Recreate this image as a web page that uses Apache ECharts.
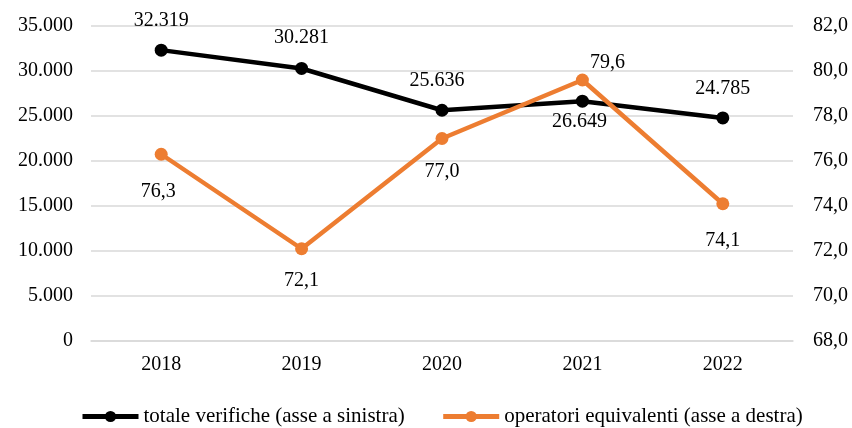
<!DOCTYPE html>
<html>
<head>
<meta charset="utf-8">
<script src="https://cdn.jsdelivr.net/npm/echarts@6/dist/echarts.min.js"></script>
<style>html,body{margin:0;padding:0;background:#fff}#c{width:852px;height:428px}</style>
</head>
<body>
<div id="c"></div>
<script>
const categories = ['2018', '2019', '2020', '2021', '2022'];
const verifiche = [32319, 30281, 25636, 26649, 24785];
const operatori = [76.3, 72.1, 77.0, 79.6, 74.1];
const seriesNames = ['totale verifiche (asse a sinistra)', 'operatori equivalenti (asse a destra)'];

const FONT = 'Liberation Serif';
const fmtThousands = v => String(Math.round(v)).replace(/\B(?=(\d{3})+(?!\d))/g, '.');
const fmtDec = v => v.toFixed(1).replace('.', ',');

// label placement per point (style, not data)
const blackLabelPos = [['top', 13, 0], ['top', 14, 0], ['top', 13, -5], ['bottom', 4, -3], ['top', 13, 0]];
const orangeLabelPos = [['bottom', 21, -3], ['bottom', 15, 0], ['bottom', 17, 0], ['top', 1, 25], ['bottom', 20, 0]];

const mk = (vals, pos, fmt) => vals.map((v, i) => ({
  value: v,
  label: { position: pos[i][0], distance: pos[i][1], offset: [pos[i][2], 0], formatter: () => fmt(v) }
}));

const chart = echarts.init(document.getElementById('c'));
chart.setOption({
  animation: false,
  textStyle: { fontFamily: FONT },
  grid: { left: 91, right: 59, top: 26, bottom: 87 },
  legend: {
    top: 401, left: 75, itemWidth: 56, itemHeight: 14, itemGap: 36,
    lineStyle: { width: 5 },
    textStyle: { fontFamily: FONT, fontSize: 21, color: '#000' },
    data: seriesNames
  },
  xAxis: {
    type: 'category', data: categories, boundaryGap: true,
    axisTick: { show: false },
    axisLine: { lineStyle: { color: '#d9d9d9', width: 1.5 } },
    axisLabel: { fontFamily: FONT, fontSize: 20, color: '#000', margin: 14 }
  },
  yAxis: [{
    type: 'value', min: 0, max: 35000, interval: 5000,
    axisLine: { show: false }, axisTick: { show: false },
    splitLine: { lineStyle: { color: '#d9d9d9', width: 1.5 } },
    axisLabel: { fontFamily: FONT, fontSize: 20, color: '#000', margin: 18, formatter: fmtThousands }
  }, {
    type: 'value', min: 68, max: 82, interval: 2,
    axisLine: { show: false }, axisTick: { show: false },
    splitLine: { show: false },
    axisLabel: { fontFamily: FONT, fontSize: 20, color: '#000', margin: 20, formatter: fmtDec }
  }],
  series: [{
    name: seriesNames[0], type: 'line', yAxisIndex: 0,
    data: mk(verifiche, blackLabelPos, fmtThousands),
    symbol: 'circle', symbolSize: 13,
    lineStyle: { color: '#000', width: 4.5 },
    itemStyle: { color: '#000' },
    label: { show: true, fontFamily: FONT, fontSize: 20, color: '#000' },
    z: 3
  }, {
    name: seriesNames[1], type: 'line', yAxisIndex: 1,
    data: mk(operatori, orangeLabelPos, fmtDec),
    symbol: 'circle', symbolSize: 13,
    lineStyle: { color: '#ED7D31', width: 4.5 },
    itemStyle: { color: '#ED7D31' },
    label: { show: true, fontFamily: FONT, fontSize: 20, color: '#000' },
    z: 4
  }]
});
</script>
</body>
</html>
